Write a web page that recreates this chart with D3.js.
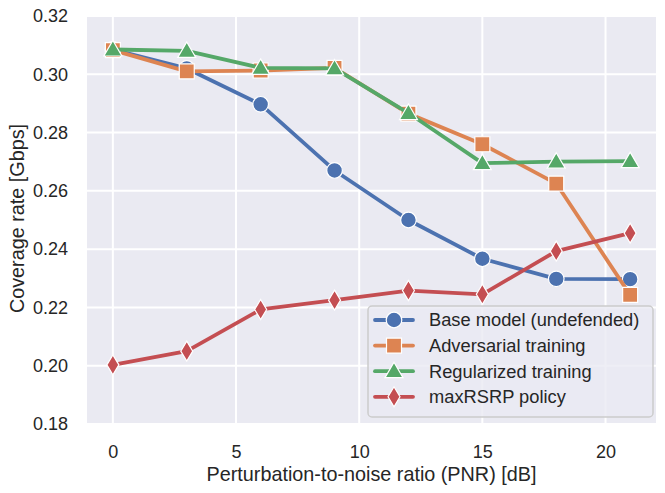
<!DOCTYPE html>
<html><head><meta charset="utf-8">
<script src="https://cdn.jsdelivr.net/npm/d3@7"></script>
<style>body{margin:0;background:#fff}svg{display:block}text{font-family:"Liberation Sans",Arial,sans-serif;fill:#262626}</style>
</head><body><svg id="c" width="665" height="493"></svg>
<script>
const pnr = [0, 3, 6, 9, 12, 15, 18, 21];
const baseModel = [0.3085, 0.302, 0.2897, 0.267, 0.250, 0.2367, 0.2298, 0.2297];
const adversarial = [0.3083, 0.301, 0.3013, 0.3022, 0.2865, 0.276, 0.2625, 0.2243];
const regularized = [0.3085, 0.308, 0.3022, 0.302, 0.2867, 0.2695, 0.270, 0.2702];
const maxRSRP = [0.2003, 0.205, 0.2193, 0.2225, 0.2258, 0.2245, 0.2393, 0.2455];
const seriesNames = ["Base model (undefended)", "Adversarial training", "Regularized training", "maxRSRP policy"];
const xTicks = [0, 5, 10, 15, 20];
const yTicks = [0.18, 0.20, 0.22, 0.24, 0.26, 0.28, 0.30, 0.32];

const colors = ["#4C72B0", "#DD8452", "#55A868", "#C44E52"];
const markers = ["circle", "square", "triangle", "diamond"];
const series = [baseModel, adversarial, regularized, maxRSRP];

const L = 87, R = 656, T = 16, B = 424;
const svg = d3.select("#c");
const x = d3.scaleLinear().domain([-1.05, 22.05]).range([L, R]);
const y = d3.scaleLinear().domain([0.18, 0.32]).range([B, T]);

svg.append("rect").attr("x", L).attr("y", T).attr("width", R - L).attr("height", B - T).attr("fill", "#EAEAF2");
const g = svg.append("g");
xTicks.forEach(t => g.append("line").attr("x1", x(t)).attr("x2", x(t)).attr("y1", T).attr("y2", B).attr("stroke", "#fff").attr("stroke-width", 2));
yTicks.forEach(t => g.append("line").attr("x1", L).attr("x2", R).attr("y1", y(t)).attr("y2", y(t)).attr("stroke", "#fff").attr("stroke-width", 2));

const xAxis = svg.append("g").attr("transform", `translate(0,${B})`).call(d3.axisBottom(x).tickValues(xTicks).tickSize(0).tickPadding(21).tickFormat(d3.format("d")));
const yAxis = svg.append("g").attr("transform", `translate(${L},0)`).call(d3.axisLeft(y).tickValues(yTicks).tickSize(0).tickPadding(19).tickFormat(d3.format(".2f")));
[xAxis, yAxis].forEach(a => { a.select(".domain").remove(); a.selectAll("text").style("font-size", "18px").attr("fill", "#262626").style("font-family", "Liberation Sans, Arial, sans-serif"); });

svg.append("text").attr("x", (L + R) / 2).attr("y", 481).attr("text-anchor", "middle").style("font-size", "19.8px").text("Perturbation-to-noise ratio (PNR) [dB]");
svg.append("text").attr("transform", `translate(24,218.5) rotate(-90)`).attr("text-anchor", "middle").style("font-size", "19.8px").text("Coverage rate [Gbps]");

function markerPath(type) {
  if (type === "circle") return d3.symbol().type(d3.symbolCircle).size(Math.PI * 7.8 * 7.8)();
  if (type === "square") return "M-7.5,-7.5H7.5V7.5H-7.5Z";
  if (type === "triangle") return "M0,-9L9,6.5L-9,6.5Z";
  if (type === "diamond") return "M0,-10L6,0L0,10L-6,0Z";
}

const line = d3.line().x(d => x(d[0])).y(d => y(d[1]));
series.forEach((vals, i) => {
  const pts = pnr.map((p, j) => [p, vals[j]]);
  const sg = svg.append("g");
  sg.append("path").attr("d", line(pts)).attr("fill", "none").attr("stroke", colors[i]).attr("stroke-width", 3.8).attr("stroke-linejoin", "round").attr("stroke-linecap", "round");
  sg.selectAll("path.m").data(pts).join("path").attr("class", "m")
    .attr("transform", d => `translate(${x(d[0])},${y(d[1])})`)
    .attr("d", markerPath(markers[i])).attr("fill", colors[i]).attr("stroke", "#fff").attr("stroke-width", 1.2);
});

// legend
const lg = svg.append("g");
lg.append("rect").attr("x", 368).attr("y", 306).attr("width", 285).attr("height", 111).attr("rx", 4)
  .attr("fill", "#EAEAF2").attr("fill-opacity", 0.8).attr("stroke", "#cccccc").attr("stroke-width", 1.5);
seriesNames.forEach((n, i) => {
  const yy = 320 + i * 25.6;
  lg.append("line").attr("x1", 375).attr("x2", 413).attr("y1", yy).attr("y2", yy).attr("stroke", colors[i]).attr("stroke-width", 3.8).attr("stroke-linecap", "round");
  lg.append("path").attr("transform", `translate(394,${yy})`).attr("d", markerPath(markers[i])).attr("fill", colors[i]).attr("stroke", "#fff").attr("stroke-width", 1.2);
  lg.append("text").attr("x", 429).attr("y", yy).attr("dy", "0.35em").style("font-size", "18.3px").text(n);
});
</script></body></html>
